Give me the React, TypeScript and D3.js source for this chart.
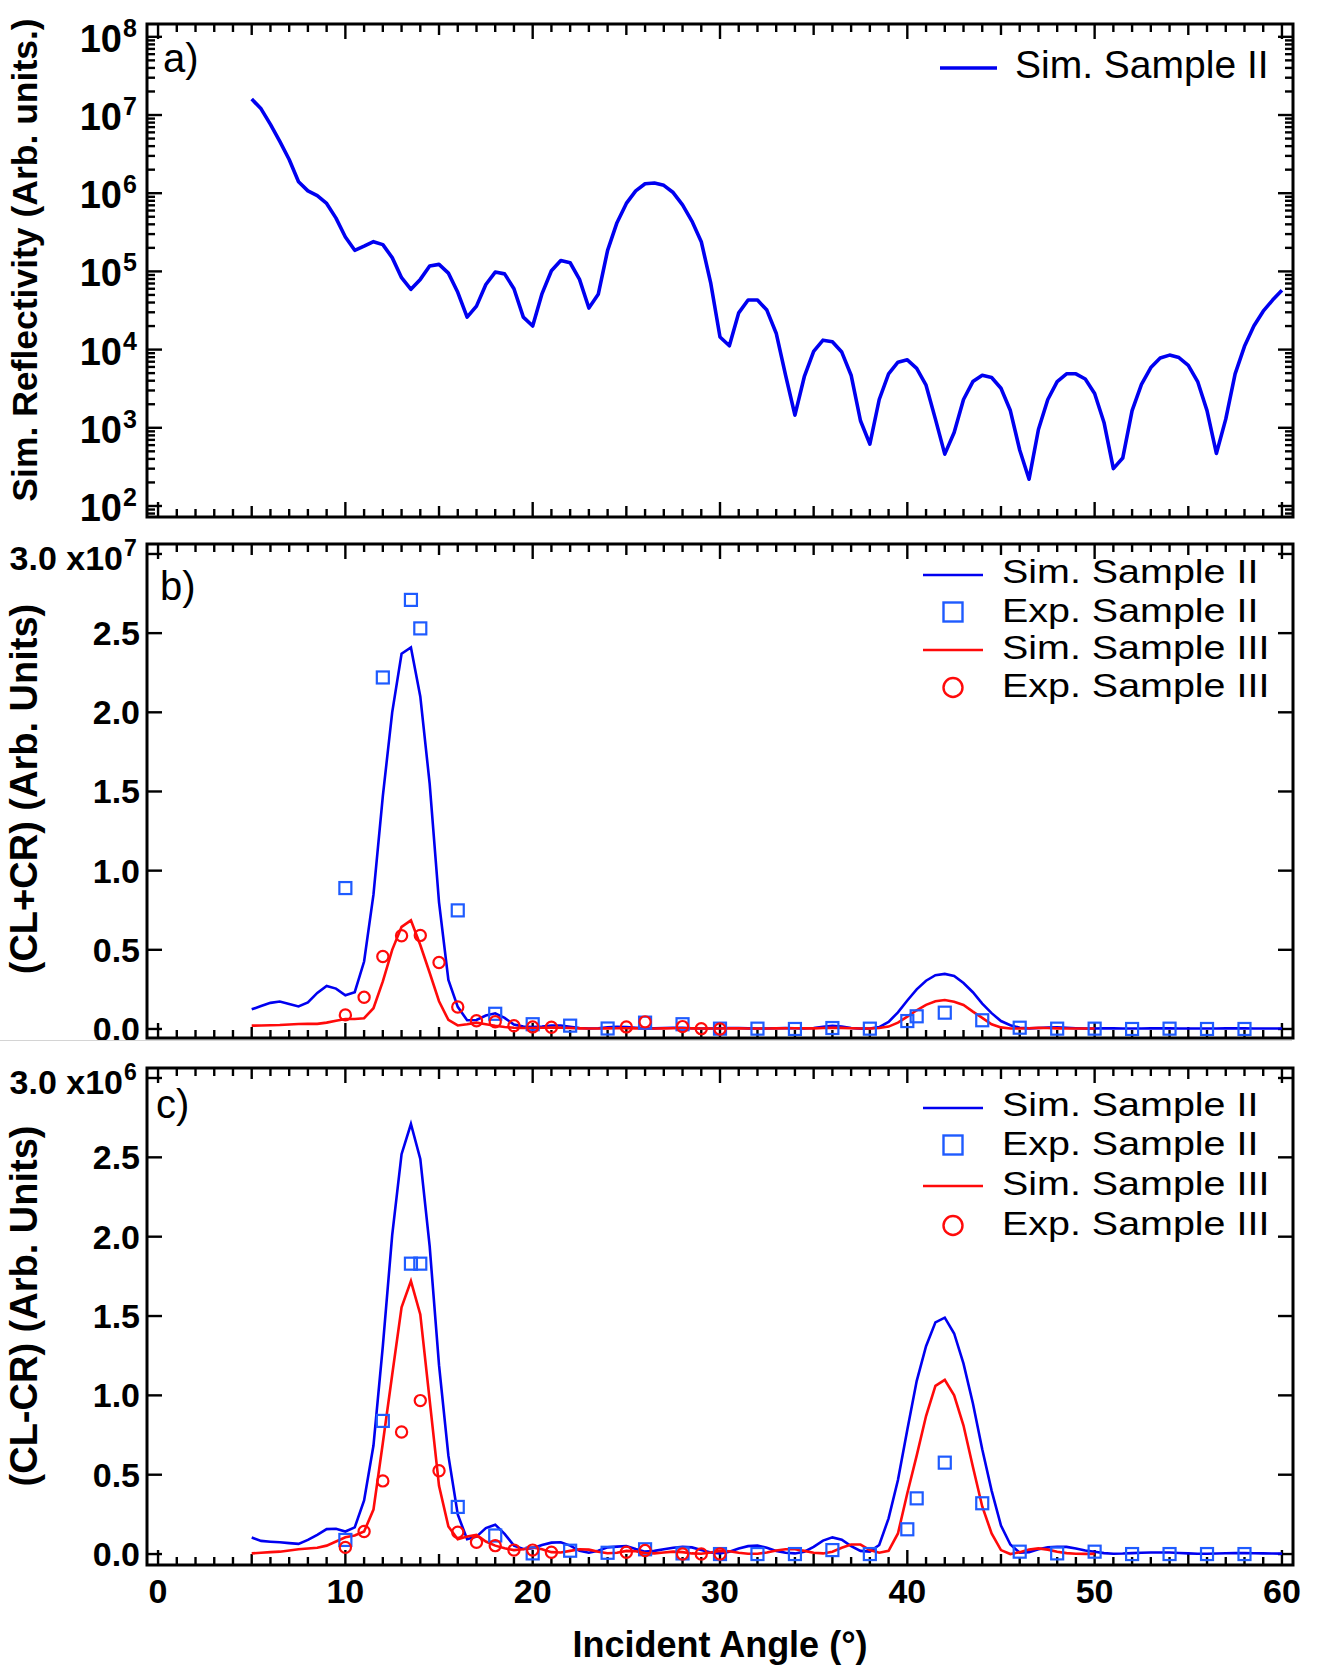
import * as React from 'react'
import * as d3 from 'd3'

// angle grids (deg) the simulations are sampled on
const simAnglesFull = d3.range(5, 60.25, 0.5)
const simAnglesShort = d3.range(5, 50.25, 0.5)

// a) simulated reflectivity, sample II
const reflSimII = [
  1.6e7, 1.2e7, 7.6e6, 4.6e6, 2.7e6, 1.4e6, 1.07e6, 9.3e5, 7.4e5, 4.8e5, // 5-9.5
  2.75e5, 1.86e5, 2.1e5, 2.4e5, 2.2e5, 1.5e5, 8.3e4, 5.9e4, 7.9e4, 1.17e5, // 10-14.5
  1.23e5, 9.5e4, 5.4e4, 2.6e4, 3.6e4, 6.8e4, 9.8e4, 9.3e4, 6.0e4, 2.6e4, // 15-19.5
  2.0e4, 5.2e4, 1.02e5, 1.38e5, 1.29e5, 7.9e4, 3.4e4, 5.1e4, 1.86e5, 4.2e5, // 20-24.5
  7.4e5, 1.07e6, 1.32e6, 1.35e6, 1.26e6, 1.02e6, 7.1e5, 4.4e5, 2.4e5, 7.2e4, // 25-29.5
  1.45e4, 1.12e4, 2.95e4, 4.3e4, 4.3e4, 3.2e4, 1.62e4, 4.7e3, 1.45e3, 4.5e3, // 30-34.5
  9.5e3, 1.32e4, 1.26e4, 9.3e3, 4.7e3, 1.23e3, 6.2e2, 2.3e3, 4.9e3, 6.9e3, // 35-39.5
  7.4e3, 5.75e3, 3.5e3, 1.29e3, 4.6e2, 8.7e2, 2.3e3, 3.9e3, 4.7e3, 4.4e3, // 40-44.5
  3.2e3, 1.66e3, 5.2e2, 2.2e2, 9.5e2, 2.3e3, 3.9e3, 4.9e3, 4.9e3, 4.2e3, // 45-49.5
  2.75e3, 1.17e3, 3.0e2, 4.1e2, 1.66e3, 3.6e3, 5.9e3, 7.8e3, 8.5e3, 7.9e3, // 50-54.5
  6.3e3, 3.9e3, 1.66e3, 4.7e2, 1.29e3, 4.9e3, 1.1e4, 2.0e4, 3.1e4, 4.3e4, // 55-59.5
  5.75e4,
]

// b) CL+CR, units of 1e7
const sumSimII = [
  0.124, 0.145, 0.165, 0.173, 0.158, 0.142, 0.168, 0.228, 0.272, 0.255,
  0.213, 0.232, 0.426, 0.848, 1.47, 2.0, 2.37, 2.41, 2.1, 1.55,
  0.8, 0.31, 0.14, 0.055, 0.057, 0.085, 0.099, 0.07, 0.028, 0.015,
  0.012, 0.016, 0.022, 0.022, 0.014, 0.006, 0.003, 0.005, 0.01, 0.013,
  0.012, 0.008, 0.005, 0.004, 0.006, 0.008, 0.008, 0.005, 0.003, 0.003,
  0.005, 0.006, 0.006, 0.004, 0.003, 0.003, 0.005, 0.006, 0.005, 0.004,
  0.006, 0.014, 0.02, 0.016, 0.006, 0.002, 0.003, 0.012, 0.045, 0.105,
  0.18, 0.25, 0.305, 0.34, 0.348, 0.335, 0.29, 0.232, 0.16, 0.1,
  0.05, 0.024, 0.008, 0.004, 0.006, 0.009, 0.01, 0.008, 0.005, 0.003,
  0.003, 0.004, 0.004, 0.003, 0.003, 0.003, 0.004, 0.004, 0.004, 0.003,
  0.003, 0.003, 0.003, 0.003, 0.004, 0.004, 0.004, 0.003, 0.003, 0.003,
  0.003,
]
const sumSimIII = [
  0.021, 0.022, 0.024, 0.025, 0.028, 0.031, 0.032, 0.032, 0.04, 0.052,
  0.063, 0.063, 0.068, 0.131, 0.3, 0.5, 0.645, 0.686, 0.53, 0.355,
  0.175, 0.057, 0.022, 0.03, 0.04, 0.03, 0.02, 0.012, 0.008, 0.006,
  0.006, 0.008, 0.009, 0.008, 0.006, 0.004, 0.003, 0.003, 0.004, 0.005,
  0.005, 0.004, 0.003, 0.003, 0.004, 0.005, 0.005, 0.004, 0.003, 0.003,
  0.003, 0.004, 0.004, 0.003, 0.003, 0.003, 0.004, 0.005, 0.005, 0.004,
  0.004, 0.006, 0.008, 0.007, 0.005, 0.003, 0.003, 0.006, 0.015, 0.04,
  0.078, 0.118, 0.152, 0.175, 0.183, 0.172, 0.152, 0.11, 0.07, 0.03,
  0.01, 0.003, 0.003, 0.005, 0.007, 0.006, 0.004, 0.003, 0.003, 0.003,
  0.003,
]

// measured angles
const expIIAngles = [10, 12, 13.5, 14, 16, 18, 20, 22, 24, 26, 28, 30, 32, 34, 36, 38, 40, 40.5, 42, 44, 46, 48, 50, 52, 54, 56, 58]
const expIIIAngles = [10, 11, 12, 13, 14, 15, 16, 17, 18, 19, 20, 21, 25, 26, 28, 29, 30]

const sumExpII = [0.89, 2.22, 2.71, 2.53, 0.749, 0.096, 0.03, 0.021, 0.003, 0.04, 0.03, 0.002, 0.002, 0.0, 0.006, 0.002, 0.05, 0.08, 0.103, 0.055, 0.008, 0.002, 0.002, 0.0, 0.002, 0.0, 0.0]
const sumExpIII = [0.089, 0.2, 0.458, 0.589, 0.591, 0.42, 0.139, 0.052, 0.046, 0.02, 0.013, 0.011, 0.013, 0.045, 0.015, 0.002, 0.0]

// c) CL-CR, units of 1e6
const diffSimII = [
  0.104, 0.083, 0.078, 0.074, 0.069, 0.064, 0.089, 0.121, 0.157, 0.159,
  0.142, 0.168, 0.338, 0.684, 1.31, 2.01, 2.52, 2.71, 2.49, 1.94,
  1.19, 0.62, 0.249, 0.093, 0.11, 0.164, 0.185, 0.127, 0.053, 0.032,
  0.036, 0.057, 0.072, 0.074, 0.053, 0.021, 0.008, 0.021, 0.042, 0.047,
  0.051, 0.032, 0.015, 0.02, 0.03, 0.04, 0.045, 0.042, 0.025, 0.01,
  0.004, 0.015, 0.035, 0.05, 0.053, 0.04, 0.02, 0.008, 0.004, 0.015,
  0.045, 0.085, 0.105, 0.09, 0.05, 0.02, 0.015, 0.057, 0.225, 0.467,
  0.783, 1.09, 1.31, 1.46, 1.49, 1.39, 1.2, 0.95, 0.66, 0.4,
  0.18, 0.06, 0.008, 0.012, 0.03, 0.042, 0.046, 0.045, 0.035, 0.022,
  0.014, 0.006, 0.002, 0.003, 0.006, 0.008, 0.01, 0.01, 0.01, 0.007,
  0.004, 0.002, 0.002, 0.003, 0.005, 0.006, 0.006, 0.005, 0.004, 0.003,
  0.003,
]
const diffSimIII = [
  0.004, 0.008, 0.012, 0.015, 0.022, 0.03, 0.035, 0.04, 0.053, 0.079,
  0.106, 0.117, 0.142, 0.28, 0.7, 1.13, 1.555, 1.72, 1.51, 0.97,
  0.43, 0.174, 0.093, 0.11, 0.121, 0.079, 0.053, 0.036, 0.025, 0.03,
  0.042, 0.03, 0.012, 0.01, 0.02, 0.03, 0.028, 0.015, 0.005, 0.008,
  0.02, 0.018, 0.006, 0.004, 0.01, 0.015, 0.012, 0.004, 0.002, 0.01,
  0.02, 0.018, 0.008, 0.002, 0.002, 0.01, 0.022, 0.03, 0.03, 0.02,
  0.008, 0.004, 0.015, 0.04, 0.06, 0.06, 0.025, 0.008, 0.02, 0.13,
  0.383, 0.62, 0.87, 1.06, 1.098, 1.0, 0.81, 0.55, 0.3, 0.13,
  0.025, 0.0, 0.012, 0.028, 0.036, 0.028, 0.015, 0.006, 0.002, 0.001,
  0.001,
]
const diffExpII = [0.089, 0.839, 1.83, 1.83, 0.297, 0.117, 0.004, 0.021, 0.008, 0.03, 0.004, 0.0, 0.0, 0.0, 0.025, 0.0, 0.156, 0.351, 0.576, 0.32, 0.015, 0.004, 0.015, 0.0, 0.0, 0.0, 0.0]
const diffExpIII = [0.042, 0.142, 0.461, 0.769, 0.967, 0.525, 0.138, 0.074, 0.053, 0.025, 0.025, 0.011, 0.011, 0.022, 0.0, 0.0, 0.0]

const linTicks = [0, 0.5, 1.0, 1.5, 2.0, 2.5, 3.0]
const xLabels = [0, 10, 20, 30, 40, 50, 60]
const decades = [2, 3, 4, 5, 6, 7, 8]

const FONT = '"Liberation Sans", Arial, Helvetica, sans-serif'
const BLUE = '#0000f0'
const SQ_BLUE = '#1e5bff'
const RED = '#ff0a0a'
const LEFT = 147
const RIGHT = 1293

const x = d3.scaleLinear().domain([-0.59, 60.59]).range([LEFT, RIGHT])

const yA = d3.scaleLog().domain([Math.pow(10, 1.859), Math.pow(10, 8.164)]).range([517, 24])
const yB = d3.scaleLinear().domain([-0.057, 3.063]).range([1038, 544])
const yC = d3.scaleLinear().domain([-0.069, 3.063]).range([1565, 1068])

const pts = (xs: number[], ys: number[]) => xs.map((a, i) => [a, ys[i]] as [number, number])

const XTicks = ({ top, bottom }: { top: number; bottom: number }) => (
  <g stroke="#000" strokeWidth={2.4}>
    {d3.range(0, 61).map(t => {
      const len = t % 10 === 0 ? 15 : t % 5 === 0 ? 11 : 8
      const px = x(t)
      return (
        <g key={t}>
          <line x1={px} x2={px} y1={bottom} y2={bottom - len} />
          <line x1={px} x2={px} y1={top} y2={top + len} />
        </g>
      )
    })}
  </g>
)

const Frame = ({ top, bottom }: { top: number; bottom: number }) => (
  <rect x={LEFT} y={top} width={RIGHT - LEFT} height={bottom - top} fill="none" stroke="#000" strokeWidth={3} />
)

const LinPanel = ({ y, top, bottom, simII, simIII, expII, expIII, exponent, tag, tagX, tagY, legend }: any) => {
  const line = d3.line<[number, number]>().x(d => x(d[0])).y(d => y(d[1]))
  return (
    <g>
      <XTicks top={top} bottom={bottom} />
      <g stroke="#000" strokeWidth={2.4}>
        {linTicks.map(t => (
          <g key={t}>
            <line x1={LEFT} x2={LEFT + 15} y1={y(t)} y2={y(t)} />
            <line x1={RIGHT} x2={RIGHT - 15} y1={y(t)} y2={y(t)} />
          </g>
        ))}
      </g>
      <g fontFamily={FONT} fontWeight="bold" fontSize={34} textAnchor="end">
        {linTicks.slice(0, -1).map(t => (
          <text key={t} x={140} y={y(t) + 12}>{t.toFixed(1)}</text>
        ))}
        <text x={123} y={y(3) + 16}>3.0 x10</text>
        <text x={124} y={y(3) + 2} fontSize={23} textAnchor="start">{exponent}</text>
      </g>
      <path d={line(pts(simAnglesFull, simII)) || ''} fill="none" stroke={BLUE} strokeWidth={2.6} />
      <path d={line(pts(simAnglesShort, simIII)) || ''} fill="none" stroke={RED} strokeWidth={2.6} />
      {expIIAngles.map((a, i) => (
        <rect key={'s' + i} x={x(a) - 6} y={y(expII[i]) - 6} width={12} height={12} fill="none" stroke={SQ_BLUE} strokeWidth={2.2} />
      ))}
      {expIIIAngles.map((a, i) => (
        <circle key={'c' + i} cx={x(a)} cy={y(expIII[i])} r={5.6} fill="none" stroke={RED} strokeWidth={2.2} />
      ))}
      <Frame top={top} bottom={bottom} />
      <text x={tagX} y={tagY} fontFamily={FONT} fontSize={40}>{tag}</text>
      <g fontFamily={FONT} fontSize={34}>
        <line x1={923} x2={983} y1={legend[0] - 8} y2={legend[0] - 8} stroke={BLUE} strokeWidth={2.6} />
        <rect x={943.5} y={legend[1] - 19.5} width={19} height={19} fill="none" stroke={SQ_BLUE} strokeWidth={2.4} />
        <line x1={923} x2={983} y1={legend[2] - 9} y2={legend[2] - 9} stroke={RED} strokeWidth={2.6} />
        <circle cx={953} cy={legend[3] - 9.5} r={9.5} fill="none" stroke={RED} strokeWidth={2.4} />
        {['Sim. Sample II', 'Exp. Sample II', 'Sim. Sample III', 'Exp. Sample III'].map((s, i) => (
          <text key={s} transform={`translate(1002,${legend[i]}) scale(1.16,1)`}>{s}</text>
        ))}
      </g>
    </g>
  )
}

const PanelA = () => {
  const line = d3.line<[number, number]>().x(d => x(d[0])).y(d => yA(d[1]))
  const minors: number[] = []
  for (let n = 1; n <= 8; n++) {
    for (let k = 2; k <= 9; k++) {
      const v = k * Math.pow(10, n)
      if (v > yA.domain()[0] && v < yA.domain()[1]) minors.push(v)
    }
  }
  return (
    <g>
      <XTicks top={24} bottom={517} />
      <g stroke="#000" strokeWidth={2.4}>
        {decades.map(d => {
          const py = yA(Math.pow(10, d))
          return (
            <g key={d}>
              <line x1={LEFT} x2={LEFT + 15} y1={py} y2={py} />
              <line x1={RIGHT} x2={RIGHT - 15} y1={py} y2={py} />
            </g>
          )
        })}
        {minors.map(v => (
          <g key={v}>
            <line x1={LEFT} x2={LEFT + 8} y1={yA(v)} y2={yA(v)} />
            <line x1={RIGHT} x2={RIGHT - 8} y1={yA(v)} y2={yA(v)} />
          </g>
        ))}
      </g>
      <g fontFamily={FONT} fontWeight="bold">
        {decades.map(d => {
          const py = yA(Math.pow(10, d))
          return (
            <g key={d}>
              <text x={122} y={py + 15} fontSize={38} textAnchor="end">10</text>
              <text x={123} y={py} fontSize={25}>{d}</text>
            </g>
          )
        })}
      </g>
      <path d={line(pts(simAnglesFull, reflSimII)) || ''} fill="none" stroke={BLUE} strokeWidth={3.6} strokeLinejoin="round" />
      <Frame top={24} bottom={517} />
      <text x={163} y={72} fontFamily={FONT} fontSize={40}>a)</text>
      <line x1={940} x2={997} y1={68} y2={68} stroke={BLUE} strokeWidth={3.6} />
      <text x={1015} y={78} fontFamily={FONT} fontSize={39}>Sim. Sample II</text>
    </g>
  )
}

const App = () => (
  <svg width={1326} height={1674} style={{ position: 'absolute', left: 0, top: 0, background: '#fff' }}>
    <rect width={1326} height={1674} fill="#fff" />
    <PanelA />
    <LinPanel y={yB} top={544} bottom={1038} simII={sumSimII} simIII={sumSimIII} expII={sumExpII} expIII={sumExpIII}
      exponent="7" tag="b)" tagX={160} tagY={600} legend={[583, 622, 659, 697]} />
    <line x1={0} x2={1292} y1={1040.5} y2={1040.5} stroke="#d4d4d4" strokeWidth={1} />
    <LinPanel y={yC} top={1068} bottom={1565} simII={diffSimII} simIII={diffSimIII} expII={diffExpII} expIII={diffExpIII}
      exponent="6" tag="c)" tagX={156} tagY={1118} legend={[1116, 1155, 1195, 1235]} />
    <g fontFamily={FONT} fontWeight="bold" fontSize={34} textAnchor="middle">
      {xLabels.map(t => (
        <text key={t} x={x(t)} y={1603}>{t}</text>
      ))}
    </g>
    <g fontFamily={FONT} fontWeight="bold" fontSize={38} textAnchor="middle">
      <text transform="translate(37,260) rotate(-90)" fontSize={35.5}>Sim. Reflectivity (Arb. units.)</text>
      <text transform="translate(37,789) rotate(-90)">(CL+CR) (Arb. Units)</text>
      <text transform="translate(37,1306) rotate(-90)">(CL-CR) (Arb. Units)</text>
      <text x={720} y={1657} fontSize={36}>Incident Angle (°)</text>
    </g>
  </svg>
)

export default App
